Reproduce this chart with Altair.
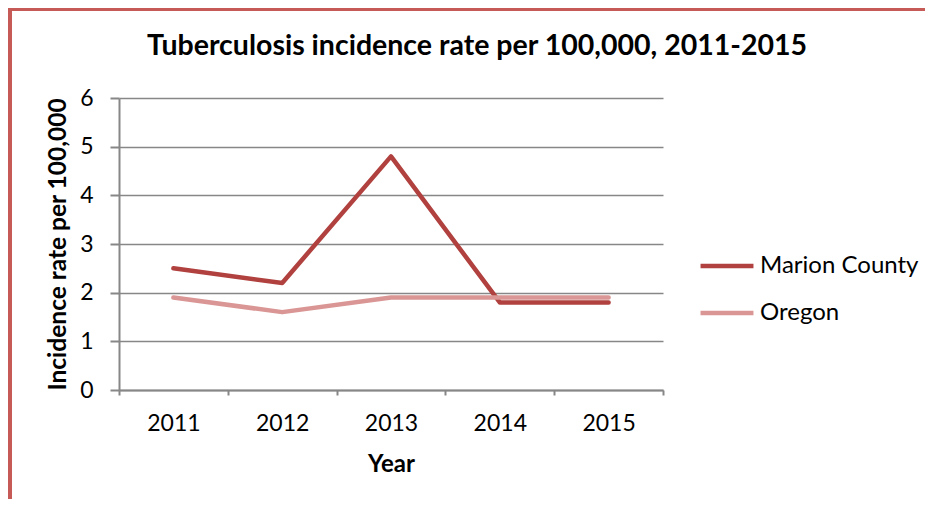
import altair as alt
import pandas as pd

years = [2011, 2012, 2013, 2014, 2015]
marion = [2.5, 2.2, 4.8, 1.8, 1.8]
oregon = [1.9, 1.6, 1.9, 1.9, 1.9]
series = ["Marion County", "Oregon"]
colors = ["#B0413E", "#D99694"]
y_ticks = [0, 1, 2, 3, 4, 5, 6]

df = pd.DataFrame({
    "Year": years + years,
    "Rate": marion + oregon,
    "Series": [series[0]] * len(years) + [series[1]] * len(years),
})

FONT = "Lato"
GRAY = "#878787"
W, H = 544, 292
PL, PT, PR, PB = 111, 90, 262, 109

xscale = alt.Scale(type="band", domain=years, paddingInner=0, paddingOuter=0)
yscale = alt.Scale(domain=[0, 6], nice=False)

lines = alt.Chart(df).mark_line(strokeWidth=4.5, strokeCap="round", strokeJoin="round").encode(
    x=alt.X("Year:O", scale=xscale, bandPosition=0.5, axis=alt.Axis(
        grid=False, title="Year", labelAngle=0, tickBand="extent",
        labelFontSize=23, labelFont=FONT, labelColor="black",
        labelPadding=17, tickSize=5, tickColor=GRAY, tickWidth=2,
        domainColor=GRAY, domainWidth=2,
        titleFont=FONT, titleFontSize=24, titleFontWeight="bold", titleColor="black",
        titlePadding=17)),
    y=alt.Y("Rate:Q", scale=yscale, axis=alt.Axis(
        values=y_ticks, grid=True, gridColor=GRAY, gridWidth=1.5,
        title="Incidence rate per 100,000",
        labelFontSize=23, labelFont=FONT, labelColor="black", labelPadding=17,
        tickSize=9, tickColor=GRAY, tickWidth=2,
        domainColor=GRAY, domainWidth=2,
        titleFont=FONT, titleFontSize=24.5, titleFontWeight="bold", titleColor="black",
        titlePadding=9)),
    color=alt.Color("Series:N", scale=alt.Scale(domain=series, range=colors),
                    legend=alt.Legend(orient="none", legendX=579, legendY=139, title=None,
                                      symbolType="stroke", symbolSize=2800,
                                      symbolStrokeWidth=4.5, labelFont=FONT,
                                      labelFontSize=24, labelColor="black",
                                      labelOffset=4, rowPadding=6)),
)

frame = pd.DataFrame({"k": [0]})
left_border = alt.Chart(frame).mark_rule(color="#C55A57", strokeWidth=4).encode(
    x=alt.value(-PL + 2), y=alt.value(-PT + 1), y2=alt.value(H + PB))
top_border = alt.Chart(frame).mark_rule(color="#C55A57", strokeWidth=4).encode(
    x=alt.value(-PL), x2=alt.value(W + PR), y=alt.value(-PT + 1))

chart = alt.layer(lines, left_border, top_border).properties(
    width=W, height=H,
    autosize="none",
    padding={"left": PL, "top": PT, "right": PR, "bottom": PB},
    title=alt.TitleParams("Tuberculosis incidence rate per 100,000, 2011-2015",
                          font=FONT, fontSize=28.5, fontWeight="bold", color="black",
                          anchor="middle", dx=86, offset=-53),
).configure_view(stroke=None)

chart.save("out.html", embed_options={"renderer": "svg", "actions": False})
